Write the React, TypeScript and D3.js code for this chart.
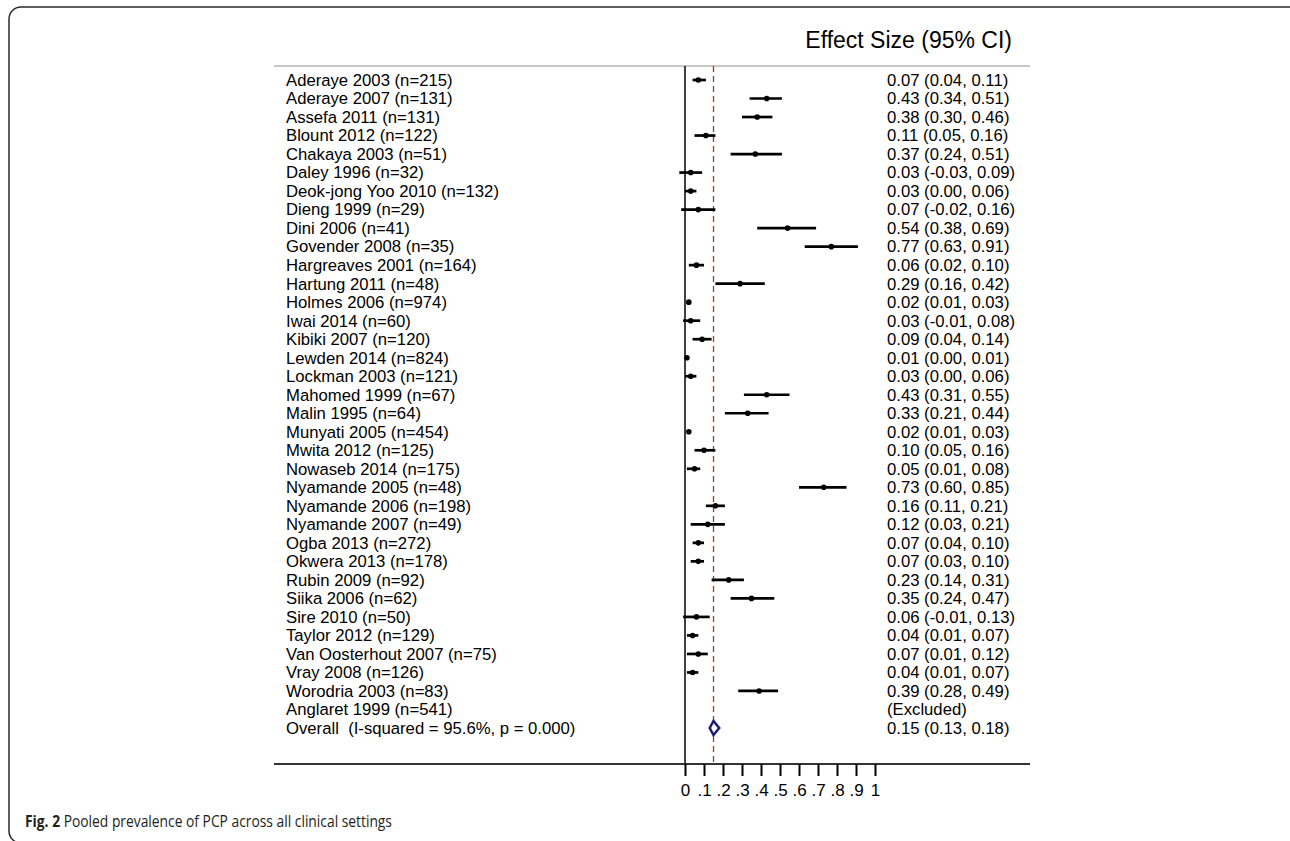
import React, { useEffect, useRef } from 'react';
import * as d3 from 'd3';

// study labels (top to bottom)
const studies = [
  'Aderaye 2003 (n=215)', 'Aderaye 2007 (n=131)', 'Assefa 2011 (n=131)', 'Blount 2012 (n=122)',
  'Chakaya 2003 (n=51)', 'Daley 1996 (n=32)', 'Deok-jong Yoo 2010 (n=132)', 'Dieng 1999 (n=29)',
  'Dini 2006 (n=41)', 'Govender 2008 (n=35)', 'Hargreaves 2001 (n=164)', 'Hartung 2011 (n=48)',
  'Holmes 2006 (n=974)', 'Iwai 2014 (n=60)', 'Kibiki 2007 (n=120)', 'Lewden 2014 (n=824)',
  'Lockman 2003 (n=121)', 'Mahomed 1999 (n=67)', 'Malin 1995 (n=64)', 'Munyati 2005 (n=454)',
  'Mwita 2012 (n=125)', 'Nowaseb 2014 (n=175)', 'Nyamande 2005 (n=48)', 'Nyamande 2006 (n=198)',
  'Nyamande 2007 (n=49)', 'Ogba 2013 (n=272)', 'Okwera 2013 (n=178)', 'Rubin 2009 (n=92)',
  'Siika 2006 (n=62)', 'Sire 2010 (n=50)', 'Taylor 2012 (n=129)', 'Van Oosterhout 2007 (n=75)',
  'Vray 2008 (n=126)', 'Worodria 2003 (n=83)', 'Anglaret 1999 (n=541)',
];
const est = [0.07, 0.43, 0.38, 0.11, 0.37, 0.03, 0.03, 0.07, 0.54, 0.77, 0.06, 0.29, 0.02, 0.03, 0.09, 0.01,
  0.03, 0.43, 0.33, 0.02, 0.10, 0.05, 0.73, 0.16, 0.12, 0.07, 0.07, 0.23, 0.35, 0.06, 0.04, 0.07, 0.04, 0.39, null];
const lower = [0.04, 0.34, 0.30, 0.05, 0.24, -0.03, 0.00, -0.02, 0.38, 0.63, 0.02, 0.16, 0.01, -0.01, 0.04, 0.00,
  0.00, 0.31, 0.21, 0.01, 0.05, 0.01, 0.60, 0.11, 0.03, 0.04, 0.03, 0.14, 0.24, -0.01, 0.01, 0.01, 0.01, 0.28, null];
const upper = [0.11, 0.51, 0.46, 0.16, 0.51, 0.09, 0.06, 0.16, 0.69, 0.91, 0.10, 0.42, 0.03, 0.08, 0.14, 0.01,
  0.06, 0.55, 0.44, 0.03, 0.16, 0.08, 0.85, 0.21, 0.21, 0.10, 0.10, 0.31, 0.47, 0.13, 0.07, 0.12, 0.07, 0.49, null];

const overallLabel = 'Overall  (I-squared = 95.6%, p = 0.000)';
const overall = { est: 0.15, lo: 0.13, hi: 0.18 };
const tickValues = [0, 0.1, 0.2, 0.3, 0.4, 0.5, 0.6, 0.7, 0.8, 0.9, 1];

const W = 1290, H = 841;

function fmt(v: number) {
  return v.toFixed(2);
}

export default function App() {
  const ref = useRef<SVGSVGElement>(null);

  useEffect(() => {
    const svg = d3.select(ref.current);
    svg.selectAll('*').remove();

    const font = '"Liberation Sans", Arial, Helvetica, sans-serif';
    const fs = '16.7px';
    const left = 274, right = 1030, top = 66, axisY = 764;
    const labelX = 286, valueX = 887;

    var x = d3.scaleLinear().domain([0, 1]).range([685, 875]);
    var rows = studies.concat([overallLabel]);
    var y = d3.scalePoint().domain(rows).range([80, 728]);

    // frame + caption
    svg.append('rect')
      .attr('x', 9).attr('y', 7).attr('width', 1300).attr('height', 836)
      .attr('rx', 12).attr('fill', 'none').attr('stroke', '#2a2a2a').attr('stroke-width', 1.5);

    const cap = svg.append('text').attr('transform', 'translate(25,827) scale(0.865,1)')
      .style('font-family', '"Open Sans", sans-serif').style('font-size', '16px').attr('fill', '#231f20');
    cap.append('tspan').style('font-weight', 'bold').text('Fig. 2');
    cap.append('tspan').text(' Pooled prevalence of PCP across all clinical settings');

    // title
    svg.append('text').attr('x', 1012).attr('y', 48).attr('text-anchor', 'end')
      .style('font-family', font).style('font-size', '23px').text('Effect Size (95% CI)');

    // top grey rule
    svg.append('line').attr('x1', left).attr('x2', right).attr('y1', top).attr('y2', top)
      .attr('stroke', '#c8c8c8').attr('stroke-width', 2);

    // null line and overall dashed line
    svg.append('line').attr('x1', x(0)).attr('x2', x(0)).attr('y1', top).attr('y2', axisY)
      .attr('stroke', '#000').attr('stroke-width', 1.5);
    svg.append('line').attr('x1', x(overall.est)).attr('x2', x(overall.est)).attr('y1', top).attr('y2', axisY)
      .attr('stroke', '#a3303c').attr('stroke-width', 1.3).attr('stroke-dasharray', '6,4');

    const g = svg.append('g');
    studies.forEach(function (s, i) {
      const yy = y(s) as number;
      g.append('text').attr('x', labelX).attr('y', yy).attr('dy', '0.35em')
        .style('font-family', font).style('font-size', fs).text(s);
      if (est[i] === null) {
        g.append('text').attr('x', valueX).attr('y', yy).attr('dy', '0.35em')
          .style('font-family', font).style('font-size', fs).text('(Excluded)');
        return;
      }
      g.append('line').attr('x1', x(lower[i] as number)).attr('x2', x(upper[i] as number))
        .attr('y1', yy).attr('y2', yy).attr('stroke', '#000').attr('stroke-width', 2.7);
      g.append('circle').attr('cx', x(est[i] as number)).attr('cy', yy).attr('r', 2.8).attr('fill', '#000');
      g.append('text').attr('x', valueX).attr('y', yy).attr('dy', '0.35em')
        .style('font-family', font).style('font-size', fs)
        .text(fmt(est[i] as number) + ' (' + fmt(lower[i] as number) + ', ' + fmt(upper[i] as number) + ')');
    });

    // overall row
    const yo = y(overallLabel) as number;
    g.append('text').attr('x', labelX).attr('y', yo).attr('dy', '0.35em')
      .style('font-family', font).style('font-size', fs).style('white-space', 'pre').text(overallLabel);
    g.append('polygon')
      .attr('points', [[x(overall.lo), yo], [x(overall.est), yo - 7], [x(overall.hi), yo], [x(overall.est), yo + 7]]
        .map(p => p.join(',')).join(' '))
      .attr('fill', '#fff').attr('stroke', '#1c1c78').attr('stroke-width', 2.5);
    g.append('text').attr('x', valueX).attr('y', yo).attr('dy', '0.35em')
      .style('font-family', font).style('font-size', fs)
      .text(fmt(overall.est) + ' (' + fmt(overall.lo) + ', ' + fmt(overall.hi) + ')');

    // x axis
    svg.append('line').attr('x1', left).attr('x2', right).attr('y1', axisY).attr('y2', axisY)
      .attr('stroke', '#333').attr('stroke-width', 2);
    const ax = svg.append('g').attr('transform', 'translate(0,' + axisY + ')')
      .call(d3.axisBottom(x).tickValues(tickValues).tickSize(12).tickPadding(8)
        .tickFormat(function (d) {
          const v = +d;
          return v === 0 || v === 1 ? String(v) : d3.format('.1f')(v).replace(/^0/, '');
        }));
    ax.select('.domain').remove();
    ax.selectAll('line').attr('stroke', '#000').attr('stroke-width', 2);
    ax.selectAll('text').style('font-family', font).style('font-size', '17px').attr('fill', '#000');
  }, []);

  return (
    <svg ref={ref} width={W} height={H}
      style={{ position: 'absolute', left: 0, top: 0, background: '#fff' }} />
  );
}
